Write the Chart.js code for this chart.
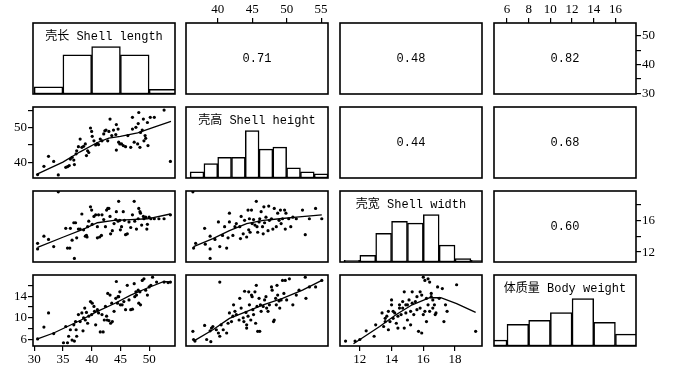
<!DOCTYPE html>
<html>
<head>
<meta charset="utf-8">
<script src="https://cdn.jsdelivr.net/npm/chart.js@4.4.0/dist/chart.umd.min.js"></script>
<style>
  body { margin: 0; background: #fff; width: 674px; height: 369px; position: relative; overflow: hidden; }
  canvas { position: absolute; }
</style>
</head>
<body>
<script>
// variable names (diagonal) and correlations (upper panels)
const varNames = ['壳长 Shell length', '壳高 Shell height', '壳宽 Shell width', '体质量 Body weight'];
const correlations = [
    [null, '0.71', '0.48', '0.82'],
    [null, null, '0.44', '0.68'],
    [null, null, null, '0.60'],
    [null, null, null, null]
];

// axis ranges of the four variables
const lengthRange = [29.8, 54.5];
const heightRange = [35.4, 56];
const widthRange = [10.75, 19.7];
const weightRange = [4.8, 17.9];

// tick marks
const lengthTicks = [30, 35, 40, 45, 50];
const heightTicks = [40, 45, 50, 55];
const widthTicks = [12, 14, 16, 18];
const weightTicks = [6, 8, 10, 12, 14, 16];

// histograms (bin start, bin width, counts)
const lengthBins = [30, 35, 40, 45, 50];
const lengthCounts = [6, 33, 40, 33, 4];
const heightBins = [36, 38, 40, 42, 44, 46, 48, 50, 52, 54];
const heightCounts = [3, 7, 10, 10, 23, 14, 15, 5, 3, 2];
const widthBins = [11, 12, 13, 14, 15, 16, 17, 18, 19];
const widthCounts = [1, 4, 17, 24, 23, 28, 10, 2, 1];
const weightBins = [4, 6, 8, 10, 12, 14, 16];
const weightCounts = [3, 11, 13, 17, 24, 12, 6];

// scatter panels [x, y]
const lengthVsHeight = [[30.6,36.4],[31.7,38.8],[32.5,41.7],[33.4,40.2],[34.2,36.3],[35.5,38.5],[35.8,38.7],[36.1,39.0],[36.3,40.9],[36.6,41.4],[36.9,40.6],[37.0,39.3],[37.3,42.4],[37.4,43.3],[37.7,44.5],[38.0,46.7],[38.3,44.3],[38.6,44.6],[38.9,45.3],[39.1,41.9],[39.3,43.3],[39.5,42.8],[39.8,49.9],[40.0,48.9],[40.1,47.5],[40.4,46.2],[40.7,45.0],[41.0,45.4],[41.2,45.1],[41.5,46.7],[41.8,46.2],[42.1,48.2],[42.3,49.1],[42.5,49.3],[42.8,46.2],[43.0,48.9],[43.2,52.5],[43.5,47.7],[43.8,49.3],[44.2,48.0],[44.3,50.9],[44.6,49.6],[44.7,45.8],[44.3,43.5],[44.9,45.3],[45.2,45.3],[45.5,44.8],[45.9,44.5],[46.3,47.7],[46.8,44.3],[47.1,53.0],[47.1,49.6],[47.4,45.8],[47.7,50.1],[48.0,45.3],[48.1,51.2],[48.2,54.4],[48.4,44.3],[48.5,48.6],[48.8,49.3],[49.0,52.5],[49.1,46.2],[49.3,47.7],[49.4,46.9],[49.7,51.5],[49.8,44.8],[50.2,53.0],[50.9,53.0],[52.6,55.1],[53.7,40.2]];
const lengthVsWidth = [[30.6,12.4],[30.6,13.1],[31.7,14.0],[32.5,13.6],[33.4,12.7],[34.2,19.6],[35.5,15.0],[35.8,12.5],[36.2,12.5],[36.3,15.0],[36.6,13.5],[36.9,15.7],[37.2,15.7],[37.0,11.2],[37.4,13.8],[37.7,14.9],[38.0,14.9],[38.3,16.8],[38.6,14.8],[38.9,14.0],[39.1,14.1],[39.2,13.9],[39.3,15.2],[39.5,15.9],[39.8,17.7],[40.0,17.3],[40.1,15.5],[40.4,16.5],[40.7,16.7],[41.0,15.2],[41.0,13.8],[41.2,16.7],[41.4,13.9],[41.7,14.1],[41.8,16.7],[42.1,16.1],[42.4,15.2],[42.6,17.3],[42.8,17.5],[43.0,17.5],[43.2,16.5],[43.3,14.3],[43.6,14.7],[43.9,15.6],[44.2,16.1],[44.3,17.1],[44.6,15.9],[44.7,18.4],[44.9,16.0],[45.0,14.8],[45.2,15.2],[45.5,17.1],[45.7,16.0],[45.9,14.2],[46.2,14.3],[46.5,15.8],[46.8,15.1],[47.1,16.7],[47.4,18.4],[47.5,15.9],[47.8,14.9],[48.1,16.2],[48.2,17.5],[48.4,17.1],[48.5,16.9],[48.7,15.4],[49.0,16.5],[49.1,16.2],[49.4,16.4],[49.6,14.9],[49.7,15.5],[50.0,16.4],[50.3,16.2],[50.9,16.2],[51.7,16.2],[52.6,16.2],[53.7,16.7]];
const heightVsWidth = [[36.4,19.6],[36.5,12.5],[36.8,13.1],[38.1,15.0],[38.2,13.0],[38.9,14.0],[38.9,12.4],[38.9,11.2],[39.6,13.6],[40.1,15.8],[40.3,12.7],[40.7,14.1],[41.0,15.2],[41.3,12.5],[41.5,13.8],[41.7,15.8],[41.7,16.9],[42.2,14.1],[42.5,15.2],[42.7,15.6],[43.2,15.2],[43.3,13.7],[43.4,16.5],[43.7,14.3],[43.9,16.0],[44.2,13.9],[44.4,17.3],[44.5,14.8],[44.6,16.2],[44.7,14.5],[44.9,17.3],[45.0,15.6],[45.2,16.1],[45.4,15.4],[45.6,18.4],[45.7,15.2],[45.8,14.5],[46.0,15.8],[46.1,16.2],[46.3,17.1],[46.5,15.2],[46.6,14.3],[46.7,17.7],[46.8,15.7],[47.0,16.4],[47.3,14.7],[47.4,17.8],[47.5,16.0],[47.8,16.2],[48.0,14.9],[48.2,17.5],[48.5,15.2],[48.7,16.9],[48.9,16.0],[49.1,17.3],[49.2,15.6],[49.4,16.2],[49.7,17.3],[49.8,14.9],[49.9,16.9],[50.3,16.2],[50.6,15.2],[50.9,16.4],[51.4,16.2],[52.3,17.3],[52.7,14.2],[53.3,16.2],[54.2,17.5],[55.1,16.2]];
const lengthVsWeight = [[30.6,6.1],[31.7,8.3],[32.5,10.9],[33.4,7.1],[35.1,5.4],[35.5,8.4],[35.8,5.4],[36.0,6.6],[36.3,7.8],[36.6,5.9],[36.9,8.7],[37.0,5.7],[37.2,9.3],[37.3,7.8],[37.4,6.6],[37.7,10.6],[38.0,9.3],[38.3,10.9],[38.5,7.6],[38.6,10.0],[38.8,11.8],[38.9,9.6],[39.1,11.0],[39.3,9.0],[39.5,10.3],[39.8,13.0],[40.0,10.6],[40.1,12.7],[40.4,12.1],[40.5,11.2],[40.7,8.7],[41.0,11.5],[41.2,10.9],[41.5,7.4],[41.8,10.6],[42.0,7.4],[42.2,9.6],[42.4,12.1],[42.6,10.3],[42.7,9.6],[42.8,14.5],[43.0,9.5],[43.2,14.2],[43.3,9.0],[43.5,12.7],[43.6,9.3],[43.9,11.2],[44.2,13.6],[44.3,16.7],[44.5,12.7],[44.6,13.9],[44.7,13.9],[44.9,14.8],[45.0,12.4],[45.3,12.4],[45.6,13.0],[45.9,11.5],[46.2,16.0],[46.5,13.3],[46.8,11.5],[47.1,11.6],[47.4,16.3],[47.5,13.9],[47.7,14.8],[47.8,14.2],[48.1,15.1],[48.2,12.7],[48.4,14.8],[48.5,12.4],[48.8,16.9],[49.1,17.2],[49.4,15.1],[49.7,14.2],[50.0,15.7],[50.3,16.0],[50.6,17.5],[51.3,16.6],[52.6,16.6],[53.3,16.5],[53.7,16.6]];
const heightVsWeight = [[36.4,7.5],[36.5,6.0],[36.7,5.7],[38.1,8.6],[38.4,6.0],[38.9,7.6],[39.0,5.6],[39.1,8.1],[39.3,8.4],[39.8,7.8],[40.1,7.2],[40.3,6.6],[40.3,16.6],[40.5,8.7],[40.8,7.8],[41.3,7.2],[41.5,9.0],[41.7,10.9],[42.0,9.3],[42.2,10.3],[42.3,12.4],[42.5,11.2],[42.7,10.6],[43.1,9.6],[43.2,13.6],[43.4,11.8],[43.7,10.0],[43.8,9.3],[43.9,14.9],[44.1,11.0],[44.2,8.7],[44.2,8.1],[44.4,10.3],[44.5,14.8],[44.6,12.4],[44.8,9.6],[44.9,14.2],[45.0,13.9],[45.1,11.5],[45.2,10.6],[45.4,14.8],[45.5,9.0],[45.6,16.0],[45.7,12.1],[45.8,7.5],[46.0,13.6],[46.1,7.5],[46.2,12.4],[46.3,11.2],[46.6,12.1],[46.8,13.3],[47.0,13.9],[47.1,11.8],[47.3,11.2],[47.5,12.4],[47.8,15.7],[47.9,15.1],[48.1,9.3],[48.2,9.6],[48.4,13.6],[48.5,12.4],[48.6,16.0],[48.7,14.2],[48.9,13.1],[49.0,11.8],[49.2,13.3],[49.4,16.9],[49.6,14.5],[49.8,16.9],[50.0,13.3],[50.4,17.2],[50.9,12.4],[51.4,14.2],[51.8,15.1],[52.7,17.5],[52.8,13.6],[53.3,15.7],[54.2,15.7],[55.1,16.9]];
const widthVsWeight = [[11.1,5.7],[11.7,5.7],[12.0,6.0],[12.4,7.6],[12.9,6.6],[13.0,8.7],[13.4,10.9],[13.5,8.4],[13.6,9.9],[13.6,9.3],[13.7,10.3],[13.8,7.8],[13.8,11.2],[13.9,9.3],[14.0,12.4],[14.0,13.3],[14.1,9.9],[14.1,11.2],[14.2,10.9],[14.3,9.0],[14.4,10.3],[14.4,8.1],[14.5,11.8],[14.5,12.4],[14.6,10.6],[14.7,13.0],[14.7,11.8],[14.8,8.1],[14.8,14.8],[14.9,12.4],[14.9,10.9],[15.0,9.6],[15.0,12.4],[15.1,13.3],[15.2,8.7],[15.2,11.2],[15.3,12.7],[15.3,14.8],[15.4,10.6],[15.5,13.0],[15.6,11.5],[15.6,13.9],[15.7,7.5],[15.8,11.8],[15.8,14.8],[15.9,7.2],[15.9,14.2],[16.0,17.5],[16.0,10.6],[16.1,11.2],[16.1,16.9],[16.2,13.6],[16.2,9.3],[16.3,17.2],[16.3,12.4],[16.4,16.6],[16.4,11.2],[16.5,14.5],[16.5,13.9],[16.6,11.8],[16.6,13.3],[16.7,12.4],[16.75,10.6],[16.8,10.9],[16.9,15.7],[17.0,13.6],[17.2,15.4],[17.3,9.3],[17.4,12.4],[17.5,11.2],[18.1,16.1],[19.3,7.5]];

// smooth (lowess) lines
const lengthVsHeightFit = [[30.6,36.6],[35,40.0],[38,43.0],[41,45.7],[43,47.0],[45,47.5],[48,48.5],[51,50.2],[53.8,51.8]];
const lengthVsWidthFit = [[30.6,12.6],[35.1,13.9],[38.6,14.9],[41.0,15.7],[43.9,16.0],[46.8,16.1],[49.7,16.2],[53.7,16.8]];
const heightVsWidthFit = [[36.5,12.7],[39.3,13.7],[41.7,14.7],[44.2,15.6],[46.6,16.0],[49.0,16.2],[51.4,16.4],[55.1,16.7]];
const lengthVsWeightFit = [[30.6,6.1],[33.4,7.2],[38.0,9.5],[41.0,11.2],[43.9,12.6],[46.8,14.2],[49.7,15.5],[52.6,16.7],[53.7,16.6]];
const heightVsWeightFit = [[36.5,5.7],[39.3,7.8],[41.7,9.9],[43.7,10.9],[46.6,12.4],[49.4,13.6],[52.3,15.1],[55.1,16.9]];
const widthVsWeightFit = [[11.6,5.2],[13.25,8.4],[14.3,10.6],[15.3,12.4],[16.4,13.7],[17.1,13.7],[18.1,12.6],[19.3,11.0]];

const ranges = [lengthRange, heightRange, widthRange, weightRange];
const hists = [
    { bins: lengthBins, counts: lengthCounts, w: 5 },
    { bins: heightBins, counts: heightCounts, w: 2 },
    { bins: widthBins, counts: widthCounts, w: 1 },
    { bins: weightBins, counts: weightCounts, w: 2 }
];
const scatters = {
    '1,0': [lengthVsHeight, lengthVsHeightFit],
    '2,0': [lengthVsWidth, lengthVsWidthFit],
    '2,1': [heightVsWidth, heightVsWidthFit],
    '3,0': [lengthVsWeight, lengthVsWeightFit],
    '3,1': [heightVsWeight, heightVsWeightFit],
    '3,2': [widthVsWeight, widthVsWeightFit]
};

// outer axes: which panel carries which side
const axisSides = {
    '0,1': { top: [heightTicks, heightTicks] },
    '0,3': { top: [weightTicks, weightTicks], right: [lengthTicks, [30, 40, 50]] },
    '1,0': { left: [heightTicks, [40, 50]] },
    '2,3': { right: [widthTicks, [12, 16]] },
    '3,0': { left: [weightTicks, [6, 10, 14]], bottom: [lengthTicks, lengthTicks] },
    '3,2': { bottom: [widthTicks, widthTicks] }
};

const M = 30, W = 142, H = 71;
const colLeft = [33, 186, 340, 494];
const rowTop = [23, 107, 191, 275];

const boxPlugin = {
    id: 'box',
    afterDraw(chart, args, opts) {
        const { ctx, chartArea: a } = chart;
        ctx.save();
        ctx.strokeStyle = '#000';
        ctx.lineWidth = 1.6;
        ctx.strokeRect(a.left, a.top, a.width, a.height);
        if (opts.text) {
            ctx.fillStyle = '#000';
            ctx.textAlign = 'center';
            ctx.textBaseline = 'middle';
            ctx.font = '12px "Liberation Mono", "Noto Sans CJK SC", monospace';
            const y = opts.top ? a.top + 14 : (a.top + a.bottom) / 2;
            ctx.fillText(opts.text, (a.left + a.right) / 2, y);
        }
        ctx.restore();
    }
};

function makeAxis(range, pos, spec) {
    const horiz = pos === 'top' || pos === 'bottom';
    const ticks = spec ? spec[0] : [];
    const labels = spec ? spec[1] : [];
    return {
        type: 'linear',
        position: pos,
        display: !!spec,
        min: range[0],
        max: range[1],
        offset: false,
        afterBuildTicks: s => { if (spec) s.ticks = ticks.map(v => ({ value: v })); },
        afterFit: s => {
            if (!spec) { s.width = 0; s.height = 0; return; }
            if (horiz) s.height = M; else s.width = M;
        },
        grid: { drawOnChartArea: false, drawTicks: true, tickLength: 5, color: '#000', lineWidth: 1.2, offset: false },
        border: { display: false },
        ticks: {
            color: '#000',
            font: { family: '"Liberation Serif", "DejaVu Serif", serif', size: 13 },
            padding: 1,
            maxRotation: 0,
            autoSkip: false,
            callback: v => labels.includes(v) ? String(v) : ''
        }
    };
}

for (let r = 0; r < 4; r++) {
    for (let c = 0; c < 4; c++) {
        const key = r + ',' + c;
        const sides = axisSides[key] || {};
        const canvas = document.createElement('canvas');
        canvas.width = W + 2 * M;
        canvas.height = H + 2 * M;
        canvas.style.left = (colLeft[c] - M) + 'px';
        canvas.style.top = (rowTop[r] - M) + 'px';
        document.body.appendChild(canvas);

        let type = 'scatter', datasets = [], yRange = ranges[r], text = null, top = false;
        if (r === c) {
            const h = hists[r];
            type = 'bar';
            yRange = [0, Math.max(...h.counts) * 1.5];
            datasets = [{
                data: h.counts.map((n, i) => ({ x: h.bins[i] + h.w / 2, y: n })),
                backgroundColor: '#fff',
                borderColor: '#000',
                borderWidth: 1.5,
                borderSkipped: false,
                barPercentage: 1,
                categoryPercentage: 1
            }];
            text = varNames[r];
            top = true;
        } else if (r > c) {
            const [pts, fit] = scatters[key];
            datasets = [
                { data: pts.map(([x, y]) => ({ x, y })), pointRadius: 1.6, pointBackgroundColor: '#000', pointBorderWidth: 0 },
                { data: fit.map(([x, y]) => ({ x, y })), showLine: true, pointRadius: 0, borderColor: '#000', borderWidth: 1.3 }
            ];
        } else {
            text = correlations[r][c];
        }

        const xPos = sides.top ? 'top' : 'bottom';
        const yPos = sides.right ? 'right' : 'left';
        new Chart(canvas, {
            type: type,
            data: { datasets: datasets },
            options: {
                responsive: false,
                animation: false,
                devicePixelRatio: 1,
                events: [],
                layout: {
                    autoPadding: false,
                    padding: {
                        left: sides.left ? 0 : M,
                        right: sides.right ? 0 : M,
                        top: sides.top ? 0 : M,
                        bottom: sides.bottom ? 0 : M
                    }
                },
                scales: {
                    x: makeAxis(ranges[c], xPos, sides[xPos]),
                    y: makeAxis(yRange, yPos, sides[yPos])
                },
                plugins: {
                    legend: { display: false },
                    tooltip: { enabled: false },
                    box: { text: text, top: top }
                }
            },
            plugins: [boxPlugin]
        });
    }
}
</script>
</body>
</html>
